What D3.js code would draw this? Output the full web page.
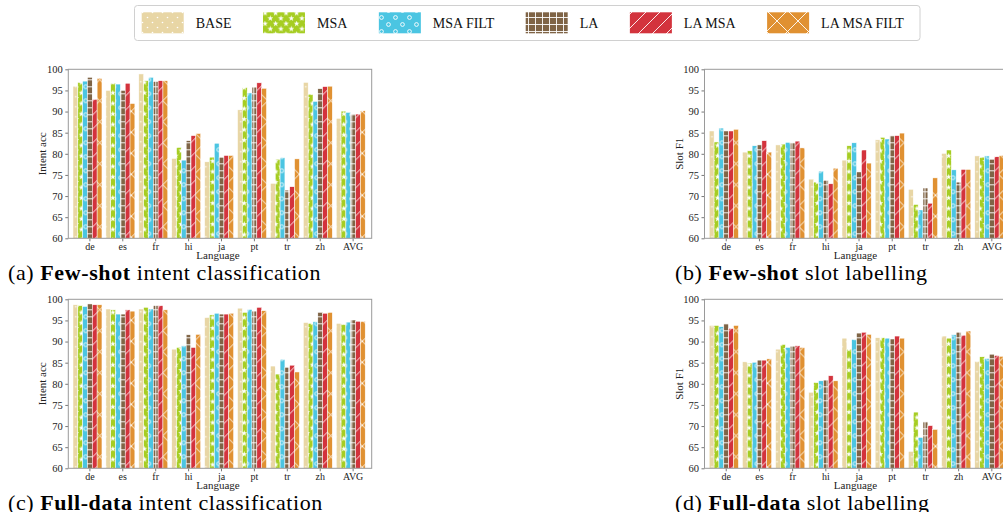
<!DOCTYPE html>
<html>
<head>
<meta charset="utf-8">
<script src="https://cdn.jsdelivr.net/npm/d3@7"></script>
<style>
  body { margin: 0; background: #fff; }
  svg { display: block; font-family: "Liberation Serif", "Times New Roman", serif; }
</style>
</head>
<body>
<div id="canvas"></div>
<script>
const languages = ["de", "es", "fr", "hi", "ja", "pt", "tr", "zh", "AVG"];
const seriesNames = ["BASE", "MSA", "MSA FILT", "LA", "LA MSA", "LA MSA FILT"];
const seriesColors = ["#e8d6a5", "#a6cd22", "#4bc5e2", "#7f6446", "#d3333d", "#e09132"];
const yTicks = [60, 65, 70, 75, 80, 85, 90, 95, 100];

// rows follow seriesNames, columns follow languages
const fewShotIntent = [
    [96.0, 95.0, 98.9, 78.9, 78.1, 90.4, 73.0, 96.9, 88.4],
    [96.9, 96.7, 97.3, 81.5, 79.2, 95.7, 78.7, 94.1, 90.1],
    [97.2, 96.5, 98.1, 78.5, 82.5, 94.4, 79.1, 92.4, 89.8],
    [98.1, 95.0, 97.1, 83.1, 79.2, 95.8, 71.4, 95.4, 89.4],
    [92.9, 96.7, 97.3, 84.3, 79.6, 96.8, 72.2, 95.9, 89.4],
    [97.9, 91.9, 97.3, 84.8, 79.6, 95.5, 78.8, 96.0, 90.2]
];
const fewShotSlot = [
    [85.4, 80.4, 82.1, 74.0, 78.5, 83.3, 71.6, 80.1, 79.5],
    [82.8, 80.7, 82.3, 73.3, 81.9, 83.9, 68.0, 80.9, 79.2],
    [86.1, 81.9, 82.7, 75.9, 82.6, 83.5, 66.7, 76.2, 79.5],
    [85.4, 82.1, 82.6, 73.7, 75.7, 84.3, 71.9, 73.3, 78.7],
    [85.4, 83.1, 83.0, 72.9, 80.9, 84.3, 68.3, 76.3, 79.3],
    [85.8, 80.4, 81.4, 76.6, 77.8, 84.9, 74.3, 76.3, 79.6]
];
const fullDataIntent = [
    [98.7, 97.7, 97.7, 88.2, 95.7, 97.9, 84.2, 94.5, 94.3],
    [98.5, 97.5, 98.1, 88.6, 96.3, 96.9, 82.3, 94.3, 94.1],
    [98.3, 96.5, 97.7, 89.0, 96.7, 97.6, 85.8, 94.7, 94.6],
    [98.9, 96.5, 98.5, 91.6, 96.5, 97.2, 83.9, 96.9, 95.1],
    [98.7, 97.5, 98.5, 88.6, 96.5, 98.1, 84.4, 96.7, 94.8],
    [98.7, 97.2, 97.5, 91.7, 96.7, 97.3, 82.8, 96.9, 94.8]
];
const fullDataSlot = [
    [93.8, 85.2, 88.2, 78.0, 90.8, 90.9, 64.0, 91.3, 85.3],
    [93.8, 84.9, 89.3, 80.3, 88.2, 90.9, 73.3, 90.8, 86.4],
    [93.5, 85.1, 88.6, 80.7, 90.5, 90.8, 67.3, 91.6, 86.0],
    [94.2, 85.6, 88.9, 80.9, 92.0, 90.6, 71.0, 92.2, 87.0],
    [93.1, 85.6, 89.0, 81.9, 92.2, 91.3, 70.1, 91.5, 86.7],
    [93.8, 85.9, 88.6, 80.7, 91.7, 90.8, 69.2, 92.5, 86.5]
];

const panels = [
    { data: fewShotIntent, yLabel: "Intent acc", tag: "(a) ", bold: "Few-shot", rest: " intent classification",
      left: 68.3, top: 69.3, width: 303.4, capX: 8, capY: 280 },
    { data: fewShotSlot, yLabel: "Slot F1", tag: "(b) ", bold: "Few-shot", rest: " slot labelling",
      left: 704.5, top: 69.3, width: 306, capX: 675, capY: 280 },
    { data: fullDataIntent, yLabel: "Intent acc", tag: "(c) ", bold: "Full-data", rest: " intent classification",
      left: 68.3, top: 299.3, width: 303.4, capX: 8, capY: 510 },
    { data: fullDataSlot, yLabel: "Slot F1", tag: "(d) ", bold: "Full-data", rest: " slot labelling",
      left: 704.5, top: 299.3, width: 306, capX: 675, capY: 510 }
];
const panelHeight = 169;

const svg = d3.select("#canvas").append("svg")
    .attr("width", 1003)
    .attr("height", 512);

// hatch patterns, one per series (white marks over the bar colour)
const defs = svg.append("defs");
const hatchW = 0.9;

function makePattern(i, size, draw) {
    const p = defs.append("pattern")
        .attr("id", "hatch" + i)
        .attr("patternUnits", "userSpaceOnUse")
        .attr("width", size)
        .attr("height", size);
    p.append("rect").attr("width", size).attr("height", size).attr("fill", seriesColors[i]);
    draw(p, size);
}

makePattern(0, 10, (p, s) => {
    [[2.5, 2.5], [7.5, 7.5]].forEach(c => {
        p.append("circle").attr("cx", c[0]).attr("cy", c[1]).attr("r", 0.8).attr("fill", "#fff");
    });
});
makePattern(1, 10.5, (p, s) => {
    [[2.6, 2.6], [7.9, 7.9]].forEach(c => {
        p.append("path")
            .attr("d", d3.symbol(d3.symbolStar).size(11)())
            .attr("transform", `translate(${c[0]},${c[1]})`)
            .attr("fill", "#fff");
    });
});
makePattern(2, 14, (p, s) => {
    [[3.5, 3.5], [10.5, 10.5]].forEach(c => {
        p.append("circle").attr("cx", c[0]).attr("cy", c[1]).attr("r", 1.9)
            .attr("fill", "none").attr("stroke", "#fff").attr("stroke-width", hatchW);
    });
});
makePattern(3, 7, (p, s) => {
    p.append("path").attr("d", `M3.5,0V${s}M0,3.5H${s}`)
        .attr("stroke", "#fff").attr("stroke-width", hatchW);
});
makePattern(4, 14, (p, s) => {
    p.append("path").attr("d", `M0,${s}L${s},0M-2,2L2,-2M${s - 2},${s + 2}L${s + 2},${s - 2}`)
        .attr("stroke", "#fff").attr("stroke-width", hatchW);
});
makePattern(5, 21, (p, s) => {
    p.append("path").attr("d", `M0,0L${s},${s}M0,${s}L${s},0`)
        .attr("stroke", "#fff").attr("stroke-width", hatchW);
});

const y = d3.scaleLinear()
    .domain([60, 100])
    .range([panelHeight, 0]);

panels.forEach(cfg => {
    const graph = svg.append("g")
        .attr("transform", `translate(${cfg.left},${cfg.top})`);

    const x0 = d3.scaleBand()
        .domain(languages)
        .range([4.7, cfg.width - 6.5])
        .paddingInner(0.12)
        .paddingOuter(0);

    const x1 = d3.scaleBand()
        .domain(seriesNames)
        .range([0, x0.bandwidth()]);

    const rows = [];
    cfg.data.forEach((vals, si) => {
        vals.forEach((v, li) => rows.push({ s: si, lang: languages[li], value: v }));
    });

    graph.selectAll("rect.bar")
        .data(rows)
        .enter()
        .append("rect")
        .attr("class", "bar")
        .attr("x", d => x0(d.lang) + x1(seriesNames[d.s]))
        .attr("y", d => y(d.value))
        .attr("width", x1.bandwidth())
        .attr("height", d => y(60) - y(d.value))
        .attr("fill", d => `url(#hatch${d.s})`)
        .attr("stroke", "#fff")
        .attr("stroke-width", 0.5);

    // axes: ticks sit under the 4th bar of each group
    const xAxis = graph.append("g")
        .attr("transform", `translate(${x1.bandwidth() / 2},${panelHeight})`)
        .call(d3.axisBottom(x0).tickSize(3).tickPadding(1.5));
    xAxis.select(".domain").remove();
    xAxis.selectAll("line").attr("stroke", "#555").attr("stroke-width", 0.8);
    xAxis.selectAll("text")
        .style("font-size", "10px")
        .style("font-family", "Liberation Serif")
        .attr("fill", "#222");

    const yAxis = graph.append("g")
        .call(d3.axisLeft(y).tickValues(yTicks).tickSize(3).tickPadding(2.5));
    yAxis.select(".domain").remove();
    yAxis.selectAll("line").attr("stroke", "#555").attr("stroke-width", 0.8);
    yAxis.selectAll("text")
        .style("font-size", "10.5px")
        .style("font-family", "Liberation Serif")
        .attr("fill", "#222");

    graph.append("rect")
        .attr("width", cfg.width)
        .attr("height", panelHeight)
        .attr("fill", "none")
        .attr("stroke", "#9a9a9a")
        .attr("stroke-width", 1);

    // axis titles
    graph.append("text")
        .attr("x", cfg.width / 2 - 2)
        .attr("y", panelHeight + 21)
        .attr("text-anchor", "middle")
        .style("font-size", "11px")
        .attr("fill", "#222")
        .text("Language");

    graph.append("text")
        .attr("transform", "rotate(-90)")
        .attr("x", -panelHeight / 2)
        .attr("y", -22)
        .attr("text-anchor", "middle")
        .style("font-size", "11px")
        .attr("fill", "#222")
        .text(cfg.yLabel);

    // sub-figure caption
    const cap = svg.append("text")
        .attr("x", cfg.capX)
        .attr("y", cfg.capY)
        .style("font-size", "22px")
        .style("letter-spacing", "0.6px")
        .attr("fill", "#000");
    cap.append("tspan").text(cfg.tag);
    cap.append("tspan").style("font-weight", "bold").text(cfg.bold);
    cap.append("tspan").text(cfg.rest);
});

// legend
const legend = svg.append("g");
legend.append("rect")
    .attr("x", 134.5)
    .attr("y", 5.5)
    .attr("width", 785.5)
    .attr("height", 35)
    .attr("rx", 3)
    .attr("fill", "#fff")
    .attr("stroke", "#d0d0d0")
    .attr("stroke-width", 1);

let lx = 141.7;
seriesNames.forEach((name, i) => {
    legend.append("rect")
        .attr("x", lx)
        .attr("y", 12.3)
        .attr("width", 42)
        .attr("height", 21)
        .attr("fill", `url(#hatch${i})`);
    const t = legend.append("text")
        .attr("x", lx + 54)
        .attr("y", 27.6)
        .style("font-size", "14px")
        .attr("fill", "#111")
        .text(name);
    lx += 54 + t.node().getComputedTextLength() + 31.5;
});
</script>
</body>
</html>
